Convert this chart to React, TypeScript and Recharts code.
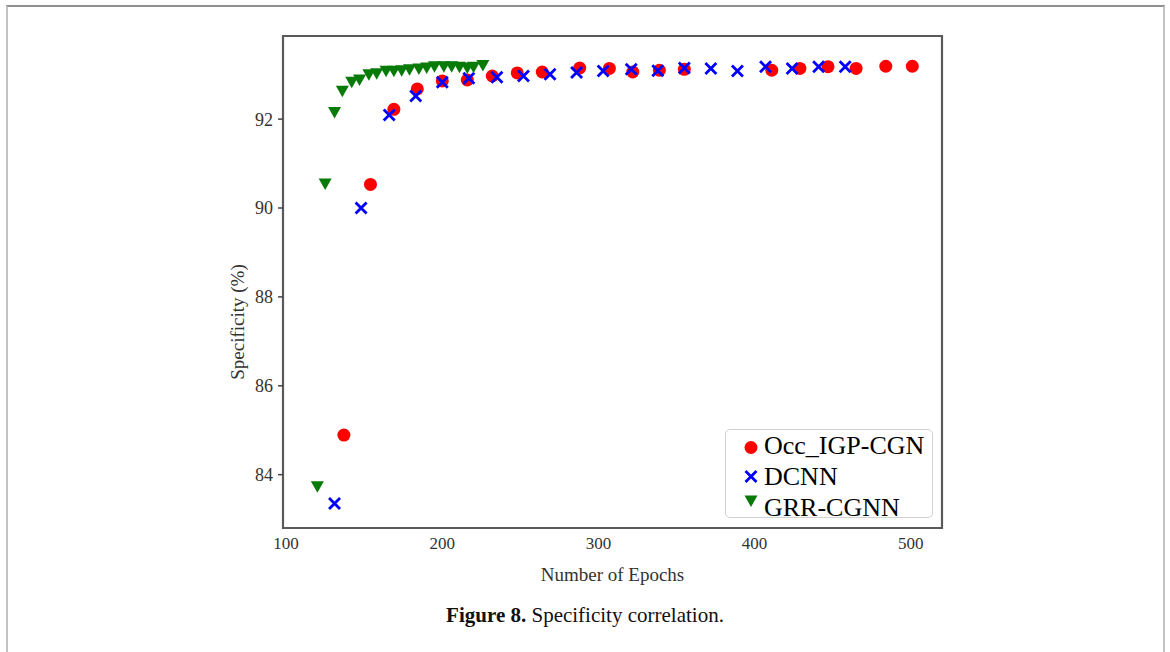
import { Label, Legend, ReferenceArea, Scatter, ScatterChart, XAxis, YAxis } from "recharts";

// Occ_IGP-CGN (red circles)
const occEpochs = [137, 154, 169, 184, 200, 216, 232, 248, 264, 288, 307, 322, 339, 355, 411, 429, 447, 465, 484, 501];
const occSpec = [84.89, 90.53, 92.22, 92.68, 92.86, 92.88, 92.97, 93.04, 93.06, 93.15, 93.14, 93.06, 93.1, 93.12, 93.1, 93.14, 93.18, 93.14, 93.19, 93.19];

// DCNN (blue crosses)
const dcnnEpochs = [131, 148, 166, 183, 200, 217, 235, 252, 269, 286, 303, 321, 338, 355, 372, 389, 407, 424, 441, 458];
const dcnnSpec = [83.35, 90.0, 92.09, 92.52, 92.83, 92.92, 92.94, 92.97, 93.01, 93.05, 93.08, 93.12, 93.09, 93.15, 93.14, 93.08, 93.18, 93.14, 93.18, 93.18];

// GRR-CGNN (green triangles)
const grrEpochs = [120, 125, 131, 136, 142, 147, 153, 158, 164, 169, 174, 179, 185, 190, 195, 201, 206, 211, 216, 220, 226];
const grrSpec = [83.74, 90.55, 92.16, 92.64, 92.84, 92.89, 93.01, 93.03, 93.09, 93.09, 93.1, 93.12, 93.14, 93.16, 93.19, 93.19, 93.19, 93.18, 93.16, 93.18, 93.22];

const epochTicks = [100, 200, 300, 400, 500];
const specTicks = [84, 86, 88, 90, 92];
const xDomain = [98, 520];
const yDomain = [82.8, 93.87];

const toPoints = (xs: number[], ys: number[]) => xs.map((x, i) => ({ epoch: x, spec: ys[i] }));

const occData = toPoints(occEpochs, occSpec);
const dcnnData = toPoints(dcnnEpochs, dcnnSpec);
const grrData = toPoints(grrEpochs, grrSpec);

const RED = "#ff0000";
const BLUE = "#0000ff";
const GREEN = "#077a07";
const SERIF = "'Liberation Serif', 'Times New Roman', serif";

const CircleMark = (p: any) => <circle cx={p.cx} cy={p.cy} r={6.5} fill={RED} />;

const CrossMark = (p: any) => {
    const { cx, cy } = p;
    const s = 5.5;
    return (
        <path
            d={`M${cx - s},${cy - s}L${cx + s},${cy + s}M${cx + s},${cy - s}L${cx - s},${cy + s}`}
            stroke={BLUE}
            strokeWidth={2.8}
            fill="none"
        />
    );
};

const TriangleMark = (p: any) => {
    const { cx, cy } = p;
    return <polygon points={`${cx - 6.5},${cy - 5} ${cx + 6.5},${cy - 5} ${cx},${cy + 6.5}`} fill={GREEN} />;
};

const legendItems = [
    { name: "Occ_IGP-CGN", Mark: CircleMark, dy: 2 },
    { name: "DCNN", Mark: CrossMark, dy: 0 },
    { name: "GRR-CGNN", Mark: TriangleMark, dy: -7 },
];

const ChartLegend = () => (
    <div
        style={{
            width: 206,
            height: 87,
            border: "1px solid #d2d2d2",
            borderRadius: 5,
            background: "#fff",
            fontFamily: SERIF,
            fontSize: 26,
            color: "#000",
        }}
    >
        {legendItems.map(({ name, Mark, dy }) => (
            <div key={name} style={{ display: "flex", alignItems: "center", height: 31 }}>
                <svg width={38} height={31} style={{ flex: "none" }}>
                    <Mark cx={25} cy={15.5 + dy} />
                </svg>
                <span style={{ lineHeight: "31px" }}>{name}</span>
            </div>
        ))}
    </div>
);

const YTitle = (props: any) => {
    const { x, y, width, height } = props.viewBox;
    const cx = x + width / 2;
    const cy = y + height / 2 + 40;
    return (
        <text
            x={cx}
            y={cy}
            transform={`rotate(-90, ${cx}, ${cy})`}
            textAnchor="middle"
            dominantBaseline="central"
            fontFamily={SERIF}
            fontSize={19}
            fill="#333"
        >
            Specificity (%)
        </text>
    );
};

const XTitle = (props: any) => {
    const { x, y, width } = props.viewBox;
    return (
        <text
            x={x + width / 2}
            y={y + 46}
            textAnchor="middle"
            dominantBaseline="central"
            fontFamily={SERIF}
            fontSize={19}
            fill="#333"
        >
            Number of Epochs
        </text>
    );
};

const App = () => {
    return (
        <div style={{ position: "absolute", left: 0, top: 0, width: 1170, height: 652, background: "#fff", overflow: "hidden" }}>
            {/* page frame */}
            <div
                style={{
                    position: "absolute",
                    left: 6,
                    top: 5,
                    width: 1155,
                    height: 700,
                    borderTop: "2px solid #8f8f8f",
                    borderLeft: "2px solid #c2c2c2",
                    borderRight: "2px solid #c2c2c2",
                }}
            />

            <div style={{ position: "absolute", left: 0, top: 0 }}>
                <ScatterChart width={1170} height={600} margin={{ top: 36, right: 228, bottom: 32, left: 191 }}>
                    <XAxis
                        type="number"
                        dataKey="epoch"
                        domain={xDomain}
                        ticks={epochTicks}
                        axisLine={false}
                        tickLine={false}
                        tickSize={0}
                        tickMargin={9}
                        height={40}
                        tick={{ fontFamily: SERIF, fontSize: 17, fill: "#333" }}
                    >
                        <Label content={XTitle} />
                    </XAxis>
                    <YAxis
                        type="number"
                        dataKey="spec"
                        domain={yDomain}
                        ticks={specTicks}
                        axisLine={false}
                        tickSize={5}
                        tickMargin={5}
                        tickLine={{ stroke: "#444", strokeWidth: 1.5 }}
                        width={92}
                        tick={{ fontFamily: SERIF, fontSize: 18, fill: "#333" }}
                    >
                        <Label content={YTitle} />
                    </YAxis>
                    <ReferenceArea
                        x1={xDomain[0]}
                        x2={xDomain[1]}
                        y1={yDomain[0]}
                        y2={yDomain[1]}
                        fill="none"
                        fillOpacity={0}
                        stroke="#5a5a5a"
                        strokeWidth={2.2}
                    />
                    <Scatter name="Occ_IGP-CGN" data={occData} fill={RED} shape={CircleMark} isAnimationActive={false} />
                    <Scatter name="DCNN" data={dcnnData} fill={BLUE} shape={CrossMark} isAnimationActive={false} />
                    <Scatter name="GRR-CGNN" data={grrData} fill={GREEN} shape={TriangleMark} isAnimationActive={false} />
                    <Legend
                        layout="vertical"
                        align="center"
                        verticalAlign="middle"
                        content={ChartLegend}
                        wrapperStyle={{ left: 725, top: 429, width: 208, height: 89 }}
                    />
                </ScatterChart>
            </div>

            <div
                style={{
                    position: "absolute",
                    left: 0,
                    width: 1170,
                    top: 603,
                    textAlign: "center",
                    fontFamily: SERIF,
                    fontSize: 21,
                    color: "#111",
                }}
            >
                <b>Figure 8.</b> Specificity correlation.
            </div>
        </div>
    );
};

export default App;
